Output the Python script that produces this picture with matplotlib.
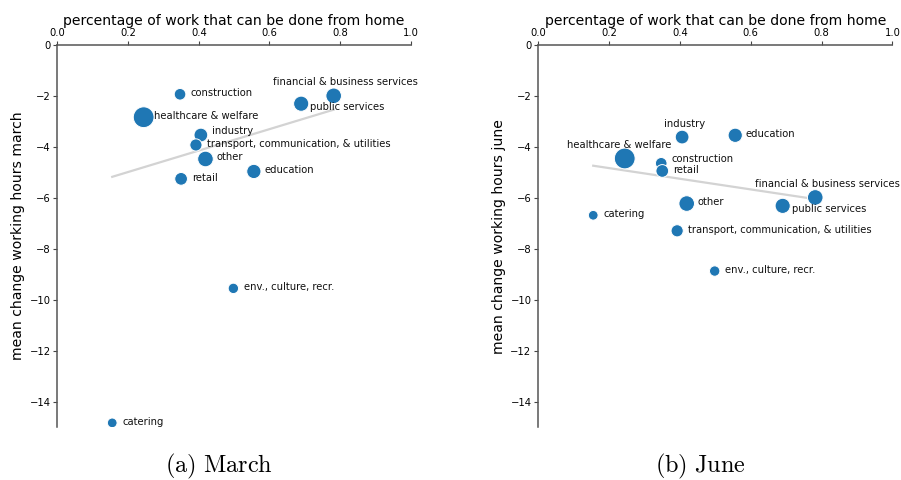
import numpy as np
import matplotlib
matplotlib.use("Agg")
import matplotlib.pyplot as plt

plt.rcParams["mathtext.fontset"] = "cm"

sectors = ["construction", "financial & business services", "public services",
           "healthcare & welfare", "industry", "transport, communication, & utilities",
           "other", "education", "retail", "env., culture, recr.", "catering"]

# share of work that can be done from home, per sector
wfh = [0.347, 0.782, 0.690, 0.244, 0.406, 0.392, 0.419, 0.556, 0.350, 0.498, 0.155]

# mean change in working hours
march = [-1.93, -1.99, -2.30, -2.83, -3.53, -3.92, -4.47, -4.96, -5.25, -9.55, -14.83]
june = [-4.64, -5.98, -6.31, -4.45, -3.61, -7.29, -6.22, -3.54, -4.94, -8.87, -6.68]

# employment share (%) of each sector
share = [5.0, 9.0, 8.5, 16.0, 7.0, 5.5, 9.0, 7.5, 6.0, 4.0, 3.5]

# label placement: (dx, dy) in points, horizontal alignment
default_off = (7.7, 0.8, "left")
march_off = {
    "financial & business services": (8.6, 9.9, "center"),
    "public services": (6.6, -2.6, "left"),
    "industry": (7.7, 2.9, "left"),
    "transport, communication, & utilities": (7.7, 0.9, "left"),
    "other": (7.7, 1.4, "left"),
}
june_off = {
    "industry": (1.7, 9.6, "center"),
    "healthcare & welfare": (-4.3, 10.0, "center"),
    "construction": (7.7, 3.1, "left"),
    "financial & business services": (8.9, 9.8, "center"),
    "public services": (6.7, -2.4, "left"),
}


def draw(ax, y, ylabel, offsets):
    x = np.array(wfh)
    y = np.array(y)
    w = np.array(share)
    # employment-weighted linear fit over the observed range
    b, a = np.polyfit(x, y, 1, w=w ** 0.65)
    xs = np.array([x.min(), x.max()])
    ax.plot(xs, a + b * xs, color="#d3d3d3", lw=1.6, zorder=1)
    ax.scatter(x, y, s=w * 14, color="#1f77b4", edgecolor="white", linewidth=0.7, zorder=2)
    for name, xi, yi in zip(sectors, x, y):
        dx, dy, ha = offsets.get(name, default_off)
        ax.annotate(name, (xi, yi), xytext=(dx, dy), textcoords="offset points",
                    ha=ha, va="center", fontsize=7.2, color="#111111")

    ax.set_xlim(0, 1)
    ax.set_ylim(-15, 0)
    ax.set_xticks([0.0, 0.2, 0.4, 0.6, 0.8, 1.0])
    ax.set_yticks([0, -2, -4, -6, -8, -10, -12, -14])
    ax.xaxis.tick_top()
    ax.xaxis.set_label_position("top")
    ax.set_xlabel("percentage of work that can be done from home", fontsize=10.1, labelpad=2)
    ax.set_ylabel(ylabel, fontsize=10.1, labelpad=3)
    ax.tick_params(labelsize=7.2, length=3, width=0.8, color="#444444", pad=2)
    for side in ["right", "bottom"]:
        ax.spines[side].set_visible(False)
    for side in ["left", "top"]:
        ax.spines[side].set_color("#555555")
        ax.spines[side].set_linewidth(1.1)


fig = plt.figure(figsize=(9.01, 4.80), dpi=100)
ax1 = fig.add_axes([0.0638, 0.110, 0.392, 0.796])
ax2 = fig.add_axes([0.5975, 0.110, 0.393, 0.796])

draw(ax1, march, "mean change working hours march", march_off)
draw(ax2, june, "mean change working hours june", june_off)

fig.text(0.243, 0.016, r"$\mathrm{(a)\ March}$", ha="center", va="baseline", fontsize=17.5)
fig.text(0.777, 0.016, r"$\mathrm{(b)\ June}$", ha="center", va="baseline", fontsize=17.5)

fig.savefig("out.png", dpi=100)
